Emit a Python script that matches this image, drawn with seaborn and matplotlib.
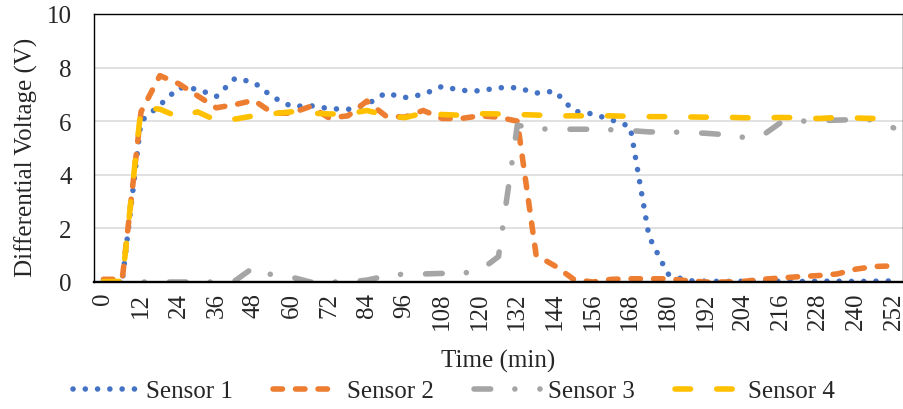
import matplotlib
matplotlib.use("Agg")
import matplotlib.pyplot as plt
import seaborn as sns
from matplotlib.ticker import FixedLocator

# ---- data (time in minutes, differential voltage in V) ----
time_min = [0, 6, 12, 18, 24, 30, 36, 42, 48, 54, 60, 66, 72, 78, 84, 90, 96,
            102, 108, 114, 120, 126, 132, 138, 144, 150, 156, 162, 168, 174,
            180, 186, 192, 198, 204, 210, 216, 222, 228, 234, 240, 246, 252]

sensor1 = [0.0, 0.02, 6.0, 6.6, 7.25, 7.2, 6.92, 7.6, 7.45, 6.9, 6.55, 6.58,
           6.47, 6.44, 6.62, 7.05, 6.88, 7.0, 7.3, 7.15, 7.13, 7.25, 7.25,
           7.05, 7.12, 6.38, 6.27, 6.05, 5.8, 1.7, 0.3, 0.05, 0.03, 0.02,
           0.03, 0.02, 0.03, 0.02, 0.03, 0.03, 0.02, 0.03, 0.04]

sensor2 = [0.1, 0.1, 6.35, 7.7, 7.4, 6.95, 6.5, 6.62, 6.78, 6.3, 6.3, 6.55,
           6.12, 6.2, 6.75, 6.2, 6.15, 6.4, 6.1, 6.1, 6.2, 6.15, 6.0, 1.0,
           0.6, 0.1, 0.0, 0.1, 0.12, 0.12, 0.12, 0.05, 0.0, 0.0, 0.02, 0.1,
           0.15, 0.2, 0.24, 0.3, 0.48, 0.58, 0.6]

sensor3 = [0.0, 0.0, 0.0, 0.0, 0.0, 0.0, 0.0, 0.05, 0.55, 0.25, 0.18, 0.0,
           0.0, 0.0, 0.07, 0.22, 0.3, 0.3, 0.32, 0.32, 0.42, 0.95, 5.85,
           5.72, 5.7, 5.7, 5.7, 5.68, 5.65, 5.6, 5.6, 5.58, 5.55, 5.5, 5.4,
           5.45, 5.95, 6.0, 6.02, 6.04, 6.06, 6.05, 5.75]

sensor4 = [0.02, 0.02, 6.5, 6.45, 6.15, 6.35, 6.03, 6.08, 6.2, 6.28, 6.35,
           6.3, 6.27, 6.27, 6.4, 6.22, 6.13, 6.3, 6.25, 6.22, 6.28, 6.27,
           6.25, 6.23, 6.2, 6.2, 6.2, 6.2, 6.18, 6.17, 6.17, 6.16, 6.15,
           6.15, 6.13, 6.12, 6.14, 6.13, 6.1, 6.14, 6.12, 6.1, 6.07]

series_names = ["Sensor 1", "Sensor 2", "Sensor 3", "Sensor 4"]
series_values = [sensor1, sensor2, sensor3, sensor4]
colors = ["#4472C4", "#ED7D31", "#A5A5A5", "#FFC000"]
# dash patterns in units of line width (round caps)
dash_patterns = [(0.01, 2.2),
                 (1.7, 2.35),
                 (3.0, 4.35, 0.01, 4.5),
                 (2.8, 4.7)]
label_times = time_min[::2]
y_ticks = [0, 2, 4, 6, 8, 10]

# ---- figure ----
sns.set_style("white")
plt.rcParams["font.family"] = ["Liberation Serif", "DejaVu Serif"]

fig = plt.figure(figsize=(9.04, 4.10), dpi=100)
ax = fig.add_axes([94 / 904, (410 - 283) / 410, (903 - 94) / 904, (283 - 15) / 410])

LW = 4.0
for name, vals, col in zip(series_names, series_values, colors):
    sns.lineplot(x=time_min, y=vals, ax=ax, color=col, label=name)

for line, pat in zip(ax.lines, dash_patterns):
    line.set_linewidth(LW)
    line.set_dashes(pat)
    line.set_dash_capstyle("round")
    line.set_dash_joinstyle("round")

step = time_min[1] - time_min[0]
ax.set_xlim(time_min[0] - step / 2, time_min[-1] + step / 2)
ax.set_ylim(0, 10)

ax.xaxis.set_major_locator(FixedLocator(label_times))
ax.set_xticklabels([str(t) for t in label_times], rotation=90, fontsize=18)
ax.xaxis.set_minor_locator(FixedLocator([t - step / 2 for t in time_min] + [time_min[-1] + step / 2]))
ax.tick_params(axis="x", which="major", length=0, pad=7)
ax.tick_params(axis="x", which="minor", length=4.5, width=1.0, color="black", direction="out")

ax.set_yticks(y_ticks)
ax.set_yticklabels([str(v) for v in y_ticks], fontsize=18)
ax.tick_params(axis="y", which="both", length=0, pad=16)

ax.yaxis.grid(True, color="#D9D9D9", linewidth=1.1)
ax.xaxis.grid(False)
ax.set_axisbelow(True)

for side, sp in ax.spines.items():
    sp.set_visible(True)
    sp.set_color("black")
    sp.set_linewidth(1.0)
ax.spines["bottom"].set_linewidth(1.7)
ax.spines["bottom"].set_zorder(3)

ax.set_xlabel("Time (min)", fontsize=18, va="center")
ax.xaxis.set_label_coords(0.5, (283 - 361) / 268)
ax.set_ylabel("Differential Voltage (V)", fontsize=18, va="center")
ax.yaxis.set_label_coords((26 - 94) / 809, (283 - 157) / 268)

ax.get_legend().remove()
handles = ax.lines[:4]
fig.legend(handles, series_names, loc="center", bbox_to_anchor=(454 / 904, 1 - 392 / 410),
           ncol=4, frameon=False, fontsize=18, handlelength=2.65,
           handletextpad=0.3, columnspacing=1.6, borderaxespad=0, borderpad=0)

fig.savefig("out.png", dpi=100)
